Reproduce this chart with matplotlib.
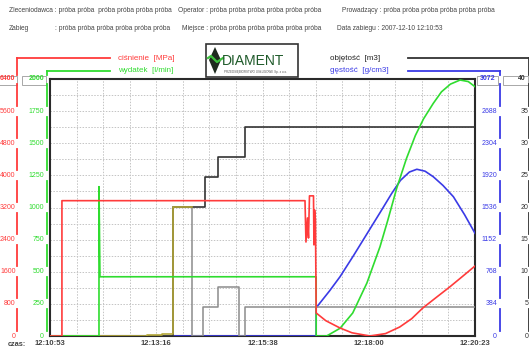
import matplotlib
matplotlib.use("Agg")
import matplotlib.pyplot as plt
import matplotlib.transforms as mtransforms
from matplotlib.patches import Rectangle, Polygon
from matplotlib.lines import Line2D

plt.rcParams['font.family'] = ['Liberation Sans', 'DejaVu Sans']

W, H = 529, 349

# --- dane pomiarowe (czas w sekundach od 12:10:53) ---
czas_etykiety = ['12:10:53', '12:13:16', '12:15:38', '12:18:00', '12:20:23']
czas_ticki = [0, 142.5, 285, 427.5, 570]

# ciśnienie [MPa]
cis_t = [0, 16, 16, 342, 343.3, 345.3, 346.7, 348, 353.4, 354, 354.8, 356, 357,
         370, 389, 405, 429, 450, 469, 485, 500, 518, 536, 553, 570]
cis_v = [0, 0, 3370, 3370, 2340, 2940, 2440, 3490, 3490, 2270, 3140, 2900, 573,
         380, 199, 80, 0, 60, 224, 430, 697, 960, 1220, 1480, 1743]

# wydatek [l/min]
wyd_t = [0, 65.7, 65.7, 67, 357, 357, 371, 389, 406, 425, 442.6, 453, 465,
         478, 490, 501, 514, 525, 537, 550, 561, 570]
wyd_v = [0, 0, 1162, 461, 461, 0, 0, 60, 179, 412, 695, 900, 1150,
         1380, 1560, 1690, 1810, 1900, 1960, 1992, 1980, 1940]

# gęstość [g/cm3]
gest_t = [0, 357, 357, 375, 389, 407, 425, 443, 458, 470, 482, 492, 503,
          514, 527, 541, 556, 570]
gest_v = [0, 0, 338, 540, 709, 960, 1220, 1480, 1700, 1860, 1960, 1993, 1970,
          1904, 1800, 1665, 1450, 1228]

# objętość [m3]
obj_t = [0, 165, 165, 208, 208, 225.7, 225.7, 261.5, 261.5, 570]
obj_v = [0, 0, 20.1, 20.1, 24.8, 24.8, 27.8, 27.8, 32.5, 32.5]

# kanały pomocnicze (skala objętości)
pom_t = [0, 165, 165, 191, 191, 205.6, 205.6, 225.7, 225.7, 253, 253, 261.5, 261.5, 570]
pom_v = [0, 0, 20.1, 20.1, 0, 0, 4.5, 4.5, 7.6, 7.6, 0, 0, 4.5, 4.5]
zolty_t = [0, 130, 130, 150, 150, 164.6, 164.6, 190.5]
zolty_v = [0, 0, 0.16, 0.16, 0.3, 0.3, 20.1, 20.1]

# skale osi
cis_ticks = [0, 800, 1600, 2400, 3200, 4000, 4800, 5600, 6400]
wyd_ticks = [0, 250, 500, 750, 1000, 1250, 1500, 1750, 2000]
gest_ticks = [0, 384, 768, 1152, 1536, 1920, 2304, 2688, 3072]
obj_ticks = [0, 5, 10, 15, 20, 25, 30, 35, 40]

RED = '#ff3b3b'
GREEN = '#2fdc2f'
BLUE = '#3a3ae6'
BLACK = '#333333'
GRAY = '#8c8c8c'
OLIVE = '#b4a838'
TXT = '#444444'


def fx(x):
    return x / W


def fy(y):
    return 1 - y / H


fig = plt.figure(figsize=(W / 100, H / 100), dpi=100)
ax = fig.add_axes([fx(50), fy(336), fx(475) - fx(50), fy(79) - fy(336)])
ax.set_xlim(0, 570)
ax.set_ylim(0, 16)
ax.set_xticks(czas_ticki)
ax.set_xticklabels(czas_etykiety, fontsize=5.5, fontweight='bold', color=TXT)
ax.set_xticks([i * 570 / 16 for i in range(17)], minor=True)
ax.set_yticks(range(17))
ax.set_yticklabels([])
ax.tick_params(which='both', length=0, pad=3)
ax.grid(which='both', color='#c4c4c4', lw=0.7, ls=(0, (1.5, 1.5)))
for s in ax.spines.values():
    s.set_color('#2a2a2a')
    s.set_linewidth(1.5)


def skala(vmax):
    a = ax.twinx()
    a.set_ylim(0, vmax)
    a.set_axis_off()
    return a


ax_gest = skala(3072)
ax_pom = skala(40)
ax_obj = skala(40)
ax_wyd = skala(2000)
ax_cis = skala(6400)

ax_pom.plot(pom_t, pom_v, color=GRAY, lw=1.1)
ax_gest.plot(gest_t, gest_v, color=BLUE, lw=1.2)
ax_obj.plot(obj_t, obj_v, color=BLACK, lw=1.2)
ax_obj.plot(zolty_t, zolty_v, color=OLIVE, lw=1.2)
ax_wyd.plot(wyd_t, wyd_v, color=GREEN, lw=1.2)
ax_cis.plot(cis_t, cis_v, color=RED, lw=1.2)


def os_pionowa(a, ticks, x_lab, x_line, color, box, y_top):
    tr = mtransforms.blended_transform_factory(fig.transFigure, a.transData)
    step = ticks[1] - ticks[0]
    for v in ticks[:-1]:
        fig.text(fx(x_lab), v, str(v), transform=tr, ha='right', va='center',
                 fontsize=5, color=color)
    for lo, hi in zip(ticks[:-1], ticks[1:]):
        fig.add_artist(Line2D([fx(x_line)] * 2, [lo + 0.17 * step, hi - 0.17 * step],
                              transform=tr, color=color, lw=1.3))
    # górny odcinek osi do nagłówka
    fig.add_artist(Line2D([fx(x_line)] * 2, [fy(y_top), fy(75)],
                          transform=fig.transFigure, color=color, lw=1.3))
    bx0, bx1 = box
    fig.add_artist(Rectangle((fx(bx0), fy(84.5)), fx(bx1) - fx(bx0), fy(75.5) - fy(84.5),
                             transform=fig.transFigure, fc='white', ec='#9a9a9a', lw=0.6))
    fig.text(fx(bx1 - 2), ticks[-1], str(ticks[-1]), transform=tr, ha='right', va='center',
             fontsize=5, color=color, fontweight='bold')


os_pionowa(ax_cis, cis_ticks, 15.5, 17, RED, (-2, 17), 58)
os_pionowa(ax_wyd, wyd_ticks, 44, 46.5, GREEN, (21.5, 46), 71)
os_pionowa(ax_gest, gest_ticks, 497, 500, BLUE, (477, 498), 71)
os_pionowa(ax_obj, obj_ticks, 528.5, 528.5, BLACK, (503, 528), 58)

# linie nagłówków serii
for (x0, x1, y, c) in [(17, 110, 58, RED), (46.5, 110, 71, GREEN),
                       (408, 528.5, 58, BLACK), (408, 500, 71, BLUE)]:
    fig.add_artist(Line2D([fx(x0), fx(x1)], [fy(y), fy(y)], transform=fig.transFigure,
                          color=c, lw=1.3))

fig.text(fx(118), fy(58), 'ciśnienie  [MPa]', color=RED, fontsize=5.8, va='center')
fig.text(fx(118), fy(71), 'wydatek  [l/min]', color=GREEN, fontsize=5.8, va='center')
fig.text(fx(330), fy(58), 'objętość  [m3]', color='#222222', fontsize=5.8, va='center')
fig.text(fx(330), fy(71), 'gęstość  [g/cm3]', color=BLUE, fontsize=5.8, va='center')

# logo
fig.add_artist(Rectangle((fx(206), fy(77)), fx(298) - fx(206), fy(44) - fy(77),
                         transform=fig.transFigure, fc='white', ec='#333333', lw=1.2))
fig.add_artist(Polygon([(fx(215), fy(47)), (fx(221), fy(60)), (fx(215), fy(74)), (fx(209), fy(60))],
                       closed=True, transform=fig.transFigure, fc='#1e2a1e', ec='none'))
fig.add_artist(Line2D([fx(208), fx(211), fx(214), fx(217), fx(220), fx(223)],
                      [fy(58), fy(56), fy(59), fy(62), fy(60), fy(58)],
                      transform=fig.transFigure, color='#3cc23c', lw=1.6))
fig.text(fx(222), fy(61), 'DIAMENT', color='#1f5a2a', fontsize=10, va='center',
         ha='left')
fig.text(fx(224), fy(71.5), 'PRZEDSIĘBIORSTWO USŁUGOWE Sp. z o.o.', color='#555555',
         fontsize=2.2, va='center', ha='left')

# nagłówek zabiegu
hdr = [
    (9, 10, 'Zleceniodawca : próba próba  próba próba próba próba'),
    (178, 10, 'Operator : próba próba próba próba próba próba'),
    (342, 10, 'Prowadzący : próba próba próba próba próba próba'),
    (9, 28, 'Zabieg'),
    (55, 28, ': próba próba próba próba próba próba'),
    (182, 28, 'Miejsce : próba próba próba próba próba próba'),
    (337, 28, 'Data zabiegu : 2007-12-10 12:10:53'),
]
for x, y, s in hdr:
    fig.text(fx(x), fy(y), s, fontsize=4.8, color=TXT, va='center', ha='left')

fig.text(fx(8), fy(344), 'czas:', fontsize=5.3, color=TXT, va='center', ha='left',
         fontweight='bold')

fig.savefig('out.png', dpi=100)
